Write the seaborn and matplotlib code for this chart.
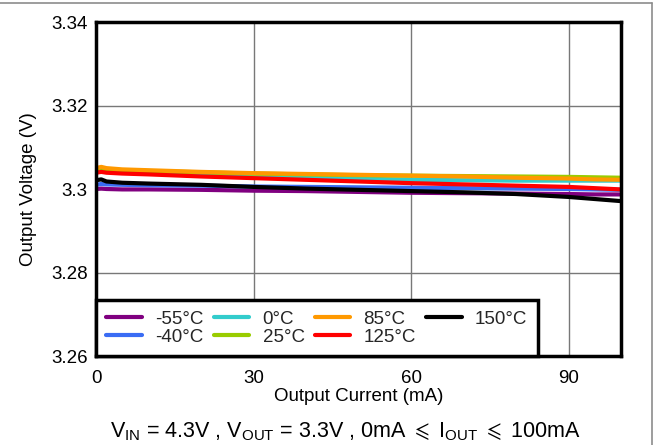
import numpy as np
import pandas as pd
import matplotlib
matplotlib.use("Agg")
import matplotlib.pyplot as plt
import seaborn as sns

sns.set_theme(style="white")
plt.rcParams["font.family"] = ["Liberation Sans", "DejaVu Sans"]
plt.rcParams["mathtext.fontset"] = "custom"
plt.rcParams["mathtext.rm"] = "Liberation Sans"
plt.rcParams["mathtext.it"] = "Liberation Sans:italic"
plt.rcParams["mathtext.fallback"] = "stix"

# Load current (mA)
current = [0, 1, 2, 5, 10, 20, 30, 40, 50, 60, 70, 80, 90, 95, 100]

# Output voltage (V) per junction temperature
v_m55 = [3.3000, 3.3001, 3.3000, 3.2999, 3.2999, 3.2998, 3.2996, 3.2995, 3.2993, 3.2991, 3.2990, 3.2989, 3.2988, 3.2987, 3.2987]
v_m40 = [3.3010, 3.3012, 3.3011, 3.3010, 3.3009, 3.3008, 3.3006, 3.3005, 3.3004, 3.3003, 3.3002, 3.3001, 3.3000, 3.2999, 3.2998]
v_0 = [3.3041, 3.3043, 3.3042, 3.3040, 3.3038, 3.3034, 3.3031, 3.3028, 3.3025, 3.3022, 3.3021, 3.3020, 3.3020, 3.3020, 3.3020]
v_25 = [3.3046, 3.3048, 3.3047, 3.3045, 3.3043, 3.3040, 3.3037, 3.3035, 3.3033, 3.3032, 3.3031, 3.3030, 3.3029, 3.3028, 3.3027]
v_85 = [3.3050, 3.3053, 3.3050, 3.3047, 3.3045, 3.3041, 3.3038, 3.3036, 3.3034, 3.3032, 3.3030, 3.3027, 3.3025, 3.3023, 3.3022]
v_125 = [3.3039, 3.3041, 3.3039, 3.3037, 3.3035, 3.3030, 3.3026, 3.3022, 3.3018, 3.3014, 3.3011, 3.3008, 3.3005, 3.3002, 3.2999]
v_150 = [3.3021, 3.3023, 3.3018, 3.3015, 3.3013, 3.3010, 3.3005, 3.3001, 3.2998, 3.2995, 3.2992, 3.2988, 3.2981, 3.2976, 3.2971]

temps = ["-55°C", "-40°C", "0°C", "25°C", "85°C", "125°C", "150°C"]
series = [v_m55, v_m40, v_0, v_25, v_85, v_125, v_150]
colors = ["#800080", "#3a6cf4", "#33cccc", "#99cc00", "#ff9900", "#ff0000", "#000000"]

x_ticks = [0, 30, 60, 90]
y_ticks = [3.26, 3.28, 3.30, 3.32, 3.34]
y_ticklabels = ["3.26", "3.28", "3.3", "3.32", "3.34"]

df = pd.DataFrame(
    [(c, v, t) for t, vals in zip(temps, series) for c, v in zip(current, vals)],
    columns=["current", "voltage", "temp"],
)

fig = plt.figure(figsize=(6.56, 4.45), dpi=100)
ax = fig.add_axes([96 / 656, 1 - 356 / 445, (621 - 96) / 656, (356 - 22) / 445])

sns.lineplot(
    data=df, x="current", y="voltage", hue="temp", hue_order=temps,
    palette=colors, linewidth=3, ax=ax, legend=True,
)

ax.set_xlim(0, 100)
ax.set_ylim(3.26, 3.34)
ax.set_xticks(x_ticks)
ax.set_yticks(y_ticks)
ax.set_yticklabels(y_ticklabels)
ax.tick_params(axis="both", length=0, labelsize=13.5, colors="black")
ax.tick_params(axis="x", pad=10)
ax.tick_params(axis="y", pad=6)
ax.grid(True, color="#787878", linewidth=1)
ax.set_axisbelow(True)
for sp in ax.spines.values():
    sp.set_color("black")
    sp.set_linewidth(2.5)

ax.set_xlabel("Output Current (mA)", fontsize=13.5, color="black", labelpad=1)
ax.set_ylabel("Output Voltage (V)", fontsize=13.5, color="black", labelpad=10)

handles, labels = ax.get_legend_handles_labels()
leg = ax.legend(
    handles, labels, ncol=4, loc="lower left", bbox_to_anchor=(0, 0),
    borderaxespad=0, fontsize=13.5, frameon=True, fancybox=False,
    handlelength=1.9, handletextpad=0.7, columnspacing=0.55,
    labelspacing=0.05, borderpad=0.55,
)
leg.get_frame().set_edgecolor("black")
leg.get_frame().set_linewidth(2.5)
leg.get_frame().set_alpha(1)
for line in leg.get_lines():
    line.set_linewidth(3)

fig.text(
    581 / 656, 1 - 432 / 445,
    r"V$_{\mathregular{IN}}$ = 4.3V , V$_{\mathregular{OUT}}$ = 3.3V , 0mA $\leqslant$ I$_{\mathregular{OUT}}$ $\leqslant$ 100mA",
    ha="right", va="center", fontsize=15.5, color="black",
)

# Outer frame
fig.add_artist(plt.Line2D([0, 652 / 656], [1 - 3 / 445, 1 - 3 / 445], color="#8c8c8c", linewidth=1.2, transform=fig.transFigure))
fig.add_artist(plt.Line2D([652 / 656, 652 / 656], [0, 1 - 3 / 445], color="#8c8c8c", linewidth=1.2, transform=fig.transFigure))

fig.savefig("out.png", dpi=100, facecolor="white")
